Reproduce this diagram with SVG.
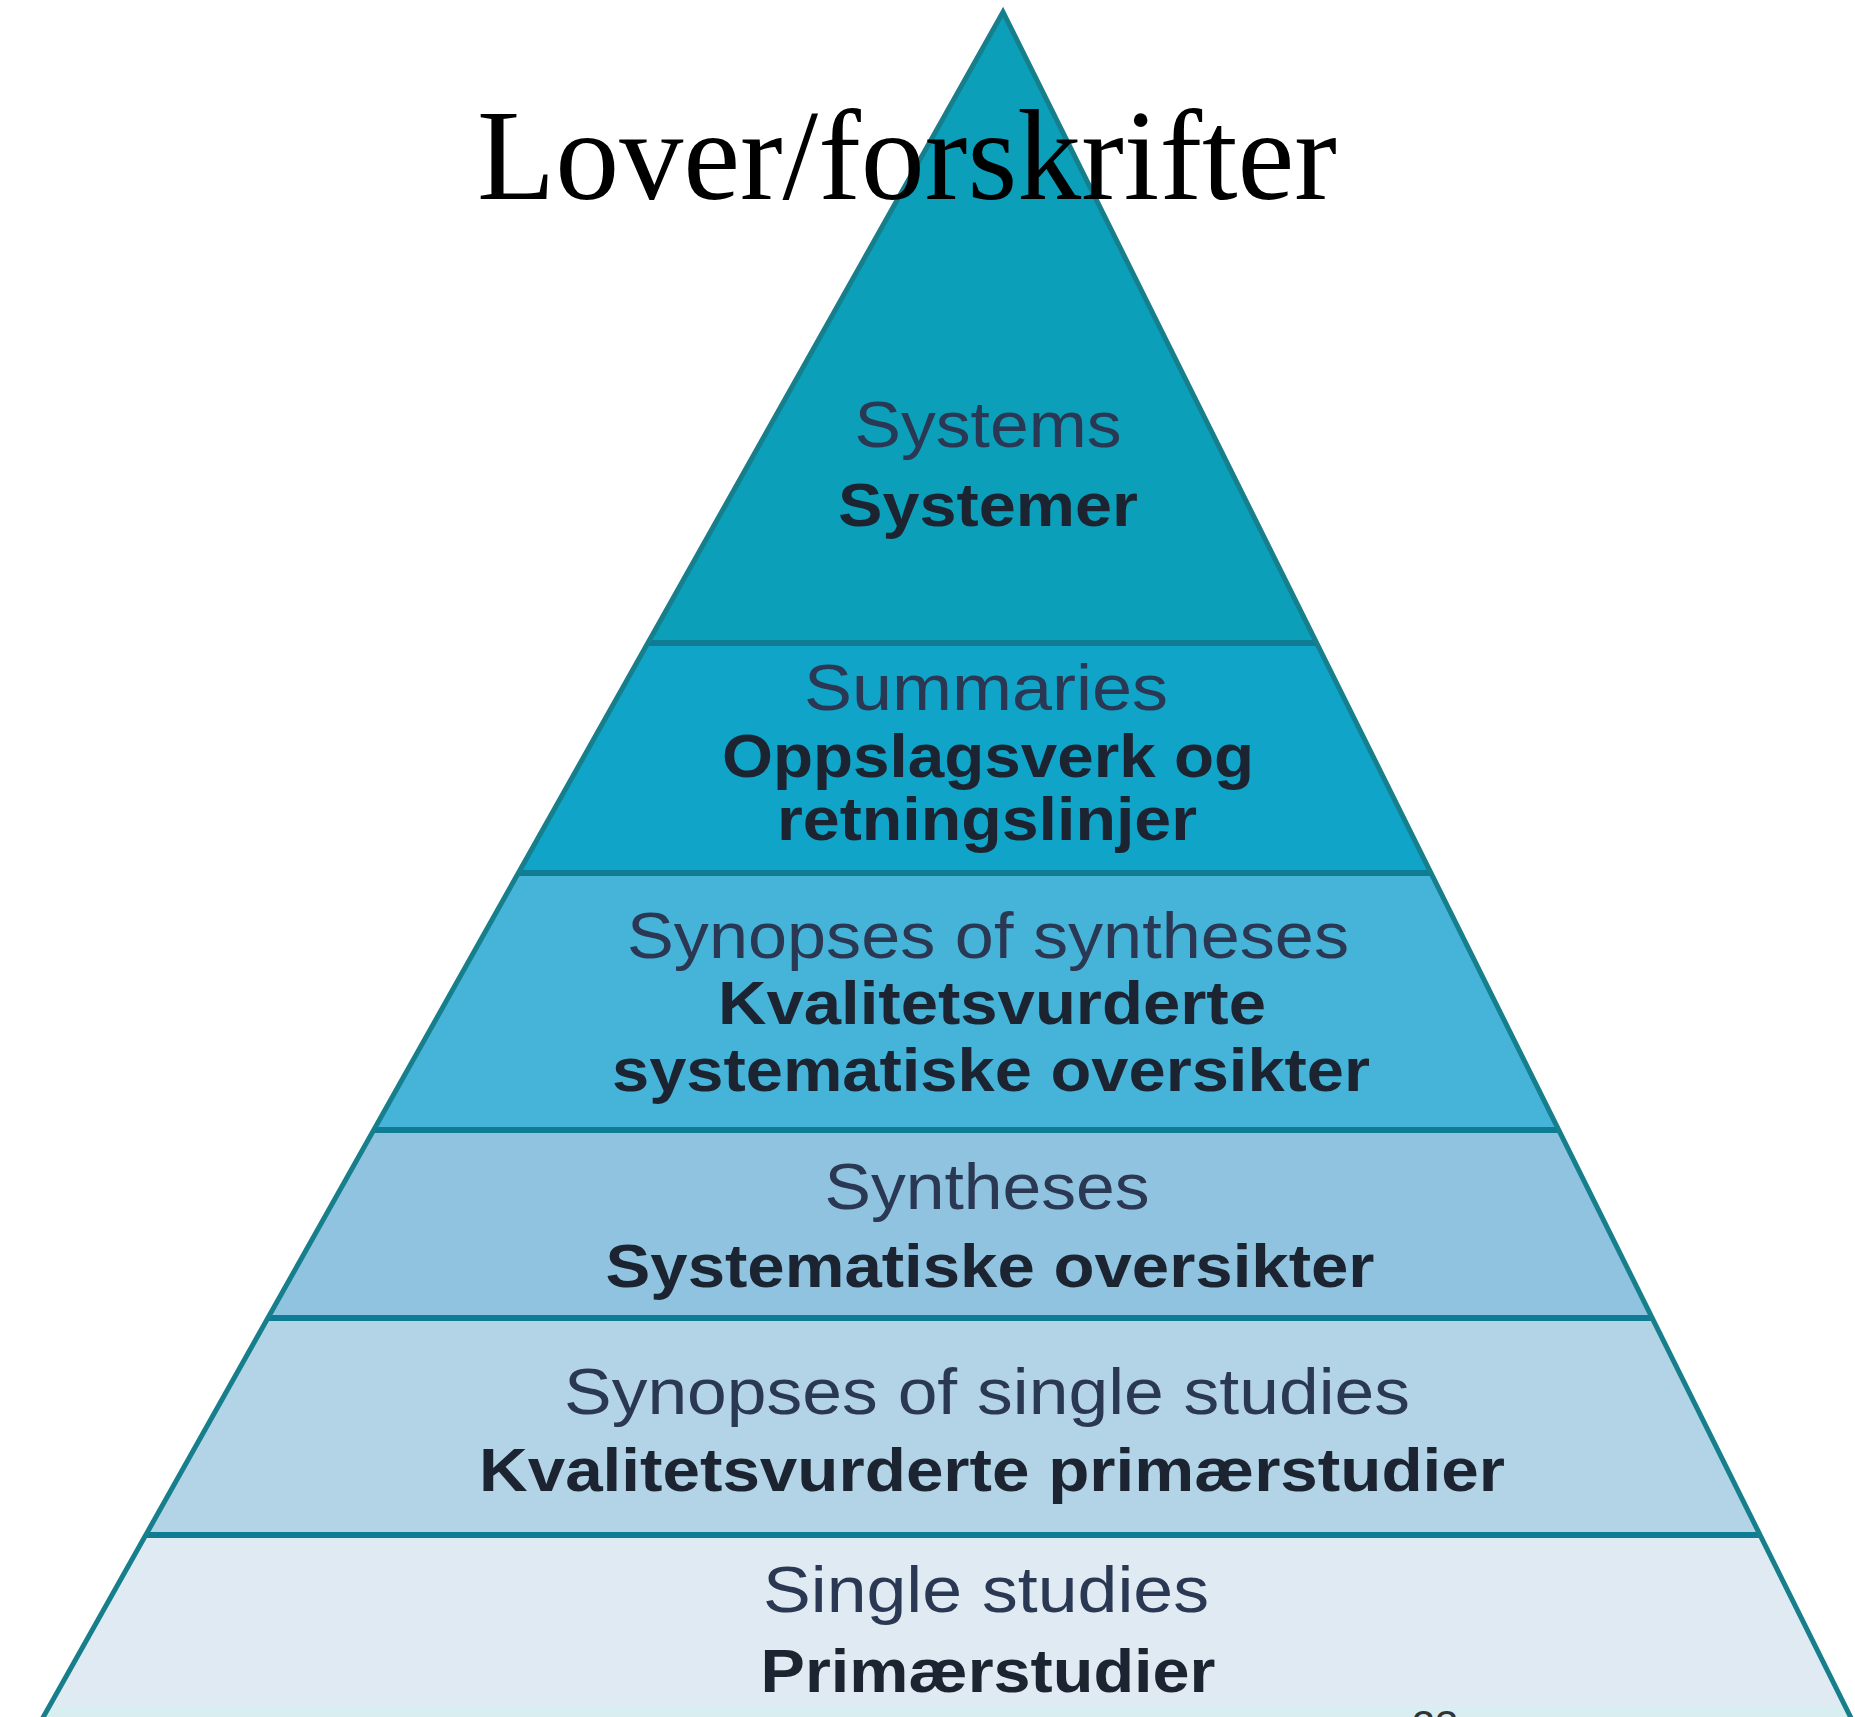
<svg xmlns="http://www.w3.org/2000/svg" width="1855" height="1717" viewBox="0 0 1855 1717">
<style>
.reg{font-family:"Liberation Sans",Arial,sans-serif;font-size:64px;fill:#2b3853;text-anchor:middle}
.bold{font-family:"Liberation Sans",Arial,sans-serif;font-size:62px;font-weight:bold;fill:#1b2430;text-anchor:middle}
.sep{stroke:#0e7d93;stroke-width:6;fill:none}
</style>
<defs>
<clipPath id="tri"><polygon points="1003,12 36,1730 1857,1730"/></clipPath>
</defs>
<rect width="1855" height="1717" fill="#ffffff"/>
<g id="pyramid-bands" clip-path="url(#tri)">
<rect x="0" y="0" width="1855" height="643" fill="#0b9fba"/>
<rect x="0" y="643" width="1855" height="230" fill="#10a4c8"/>
<rect x="0" y="873" width="1855" height="257" fill="#46b3d9"/>
<rect x="0" y="1130" width="1855" height="188" fill="#8fc3df"/>
<rect x="0" y="1318" width="1855" height="217" fill="#b3d3e7"/>
<rect x="0" y="1535" width="1855" height="170" fill="#e0eaf3"/>
<rect x="0" y="1705" width="1855" height="30" fill="#d8eef0"/>
</g>
<g id="connectors">
<line class="sep" x1="648" y1="643" x2="1317" y2="643"/>
<line class="sep" x1="518" y1="873" x2="1431" y2="873"/>
<line class="sep" x1="374" y1="1130" x2="1559" y2="1130"/>
<line class="sep" x1="268" y1="1318" x2="1652" y2="1318"/>
<line class="sep" x1="146" y1="1535" x2="1760" y2="1535"/>
<polyline points="36,1730 1003,12 1857,1730" fill="none" stroke="#177f8c" stroke-width="5" stroke-linejoin="miter"/>
</g>
<g id="level-systems">
<text class="reg" x="988" y="447" textLength="267" lengthAdjust="spacingAndGlyphs">Systems</text>
<text class="bold" x="988" y="526" textLength="300" lengthAdjust="spacingAndGlyphs">Systemer</text>
</g>
<g id="level-summaries">
<text class="reg" x="986" y="710" textLength="364" lengthAdjust="spacingAndGlyphs">Summaries</text>
<text class="bold" x="988" y="777" textLength="532" lengthAdjust="spacingAndGlyphs">Oppslagsverk og</text>
<text class="bold" x="987" y="840" textLength="420" lengthAdjust="spacingAndGlyphs">retningslinjer</text>
</g>
<g id="level-synopses-syntheses">
<text class="reg" x="988" y="958" textLength="722" lengthAdjust="spacingAndGlyphs">Synopses of syntheses</text>
<text class="bold" x="992" y="1024" textLength="548" lengthAdjust="spacingAndGlyphs">Kvalitetsvurderte</text>
<text class="bold" x="991" y="1091" textLength="758" lengthAdjust="spacingAndGlyphs">systematiske oversikter</text>
</g>
<g id="level-syntheses">
<text class="reg" x="987" y="1209" textLength="325" lengthAdjust="spacingAndGlyphs">Syntheses</text>
<text class="bold" x="990" y="1287" textLength="769" lengthAdjust="spacingAndGlyphs">Systematiske oversikter</text>
</g>
<g id="level-synopses-single">
<text class="reg" x="987" y="1414" textLength="846" lengthAdjust="spacingAndGlyphs">Synopses of single studies</text>
<text class="bold" x="992" y="1491" textLength="1026" lengthAdjust="spacingAndGlyphs">Kvalitetsvurderte primærstudier</text>
</g>
<g id="level-single">
<text class="reg" x="986" y="1612" textLength="446" lengthAdjust="spacingAndGlyphs">Single studies</text>
<text class="bold" x="988" y="1692" textLength="455" lengthAdjust="spacingAndGlyphs">Primærstudier</text>
</g>
<g id="title">
<text x="477" y="199" font-family="'Liberation Serif','Times New Roman',serif" font-size="130" fill="#000000" textLength="860" lengthAdjust="spacingAndGlyphs">Lover/forskrifter</text>
</g>
<g id="page-number">
<text x="1435" y="1740" font-family="'Liberation Sans',Arial,sans-serif" font-size="42" fill="#333333" text-anchor="middle">23</text>
</g>
</svg>
